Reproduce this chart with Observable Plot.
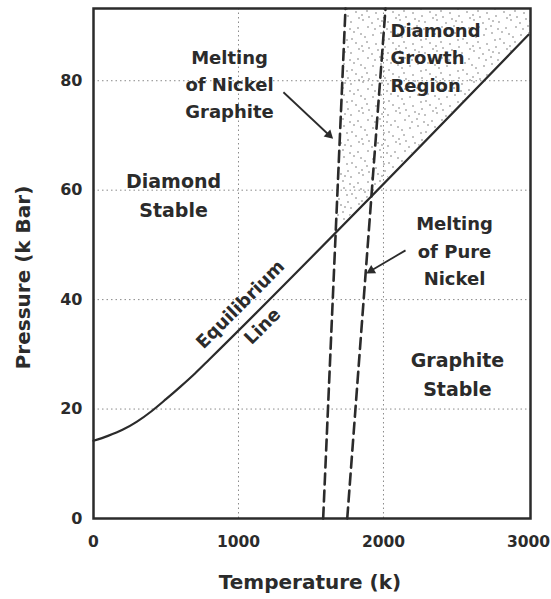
<!DOCTYPE html>
<html><head><meta charset="utf-8">
<script src="https://cdn.jsdelivr.net/npm/d3@7"></script>
<script src="https://cdn.jsdelivr.net/npm/@observablehq/plot@0.6"></script>
<style>body{margin:0;background:#fff;}</style>
</head><body><div id="chart"></div>
<script>
// ---- data (temperature in K, pressure in kBar) ----
const xTicks = [0, 1000, 2000, 3000];
const yTicks = [0, 20, 40, 60, 80];
const gridXValues = [1000, 2000];
const gridYValues = [20, 40, 60, 80];
// Graphite/diamond equilibrium line
const eqT = [0, 100, 200, 300, 400, 500, 600, 700, 800, 3000];
const eqP = [14.2, 15.1, 16.2, 17.7, 19.6, 21.8, 24.1, 26.5, 29.1, 88.4];
// Melting of nickel-graphite (dashed)
const niGrT = [1584, 1738];
const niGrP = [0, 93.2];
// Melting of pure nickel (dashed)
const niT = [1750, 2014];
const niP = [0, 93.2];
// annotation texts
const labelTexts = ["Melting\nof Nickel\nGraphite", "Diamond\nGrowth\nRegion", "Diamond\nStable",
  "Melting\nof Pure\nNickel", "Graphite\nStable", "Equilibrium", "Line"];
const xTitle = "Temperature (k)";
const yTitle = "Pressure (k Bar)";

const xMax = 3014, yMax = 93.2;
const W = 551, H = 599, mL = 93, mR = 21, mT = 8, mB = 81;

const eqData = eqT.map((t, i) => ({T: t, P: eqP[i]}));
const niGrData = niGrT.map((t, i) => ({T: t, P: niGrP[i]}));
const niData = niT.map((t, i) => ({T: t, P: niP[i]}));

// helper interpolations (derived from the arrays above)
function interp(xs, ys, x) {
  for (let i = 0; i < xs.length - 1; i++) {
    if (x <= xs[i + 1] || i === xs.length - 2) {
      const f = (x - xs[i]) / (xs[i + 1] - xs[i]);
      return ys[i] + f * (ys[i + 1] - ys[i]);
    }
  }
}
function diff(t) { return interp(niGrT, niGrP, t) - interp(eqT, eqP, t); }
let a = niGrT[0], b = niGrT[1];
for (let k = 0; k < 60; k++) { const m = (a + b) / 2; if (diff(a) * diff(m) <= 0) b = m; else a = m; }
const tCross = (a + b) / 2;
const stippleT = [tCross, niGrT[1], ...eqT.filter(t => t > niGrT[1]), xMax];
const stipple = stippleT.map(t => ({
  T: t,
  lo: interp(eqT, eqP, t),
  hi: Math.min(yMax, interp(niGrT, niGrP, t))
}));

// arrows pointing at the two melting lines
const arrowFromT = [1310, 2152], arrowFromP = [77.9, 49.0];
const arrowToT = [1652, 1883], arrowToP = [69.4, 44.8];

// pixel-per-unit factors from the layout, used to orient the arrowheads
const kx = (W - mL - mR) / xMax, ky = (H - mT - mB) / yMax;
const headBack = 5.5; // px from tip to triangle centroid
const arrows = arrowFromT.map((_, i) => {
  const dxs = (arrowToT[i] - arrowFromT[i]) * kx;
  const dys = -(arrowToP[i] - arrowFromP[i]) * ky;
  const len = Math.hypot(dxs, dys);
  const ux = dxs / len, uy = dys / len;
  return {
    x1: arrowFromT[i], y1: arrowFromP[i],
    x2: arrowToT[i] - ux * headBack / kx, y2: arrowToP[i] + uy * headBack / ky,
    angle: Math.atan2(dys, dxs) * 180 / Math.PI + 90
  };
});

const ink = "#2b2b2b";

const svg = Plot.plot({
  width: W, height: H,
  marginLeft: mL, marginRight: mR, marginTop: mT, marginBottom: mB,
  x: {domain: [0, xMax]},
  y: {domain: [0, yMax]},
  style: {fontFamily: "DejaVu Sans", fontWeight: "bold", color: ink, background: "#fff"},
  marks: [
    Plot.areaY(stipple, {x: "T", y1: "lo", y2: "hi", fill: "url(#stipple)"}),
    Plot.gridX(gridXValues, {stroke: "#8a8a8a", strokeOpacity: 1, strokeDasharray: "1.5,3"}),
    Plot.gridY(gridYValues, {stroke: "#8a8a8a", strokeOpacity: 1, strokeDasharray: "1.5,3"}),
    Plot.line(eqData, {x: "T", y: "P", curve: "monotone-x", stroke: ink, strokeWidth: 2.2}),
    Plot.line(niGrData, {x: "T", y: "P", stroke: ink, strokeWidth: 2.6, strokeDasharray: "11,6"}),
    Plot.line(niData, {x: "T", y: "P", stroke: ink, strokeWidth: 2.6, strokeDasharray: "11,6"}),
    Plot.link(arrows, {x1: "x1", y1: "y1", x2: "x2", y2: "y2", stroke: ink, strokeWidth: 1.8}),
    Plot.dot(arrows, {x: "x2", y: "y2", symbol: "triangle", r: 3.6, fill: ink, stroke: "none", rotate: "angle"}),
    Plot.text([labelTexts[0]], {x: 938, y: 79.7, text: d => d, fontSize: 18, lineHeight: 1.5, fill: ink}),
    Plot.text([labelTexts[1]], {x: 2048, y: 84.6, text: d => d, fontSize: 18, lineHeight: 1.53, textAnchor: "start", fill: ink}),
    Plot.text([labelTexts[2]], {x: 552, y: 59.5, text: d => d, fontSize: 19, lineHeight: 1.53, fill: ink}),
    Plot.text([labelTexts[3]], {x: 2490, y: 49.3, text: d => d, fontSize: 18, lineHeight: 1.53, fill: ink}),
    Plot.text([labelTexts[4]], {x: 2510, y: 26.8, text: d => d, fontSize: 19, lineHeight: 1.53, fill: ink}),
    Plot.text([labelTexts[5]], {x: 1014, y: 39.1, text: d => d, fontSize: 18, rotate: -45, fill: ink}),
    Plot.text([labelTexts[6]], {x: 1166, y: 35.1, text: d => d, fontSize: 18, rotate: -45, fill: ink}),
    Plot.axisX(xTicks, {tickSize: 0, tickPadding: 17, fontSize: 15.5, label: null, fill: ink, tickFormat: d => String(d)}),
    Plot.axisY(yTicks, {tickSize: 0, tickPadding: 11, fontSize: 16, label: null, fill: ink, tickFormat: d => String(d)}),
    Plot.text([xTitle], {frameAnchor: "bottom", dx: -2, dy: 64, text: d => d, fontSize: 20, fill: ink, textAnchor: "middle", lineAnchor: "middle"}),
    Plot.text([yTitle], {frameAnchor: "left", dx: -70, dy: 14, rotate: -90, text: d => d, fontSize: 20, fill: ink, textAnchor: "middle", lineAnchor: "middle"}),
    Plot.frame({stroke: ink, strokeWidth: 2.5})
  ]
});

// stipple pattern (styling only)
const defs = d3.select(svg).insert("defs", ":first-child");
const pat = defs.append("pattern").attr("id", "stipple")
  .attr("patternUnits", "userSpaceOnUse").attr("width", 37).attr("height", 31);
const dotPos = [[3,4],[11,2],[19,8],[28,3],[34,11],[6,13],[15,16],[23,12],[30,20],[2,23],
  [10,26],[18,22],[25,28],[35,27],[8,19],[21,1],[29,15],[14,9],[32,6],[5,29],[17,29],[26,18],[12,21],[36,17]];
pat.selectAll("circle").data(dotPos).join("circle")
  .attr("cx", d => d[0]).attr("cy", d => d[1]).attr("r", 0.75).attr("fill", "#666");

document.getElementById("chart").appendChild(svg);
</script>
</body></html>
